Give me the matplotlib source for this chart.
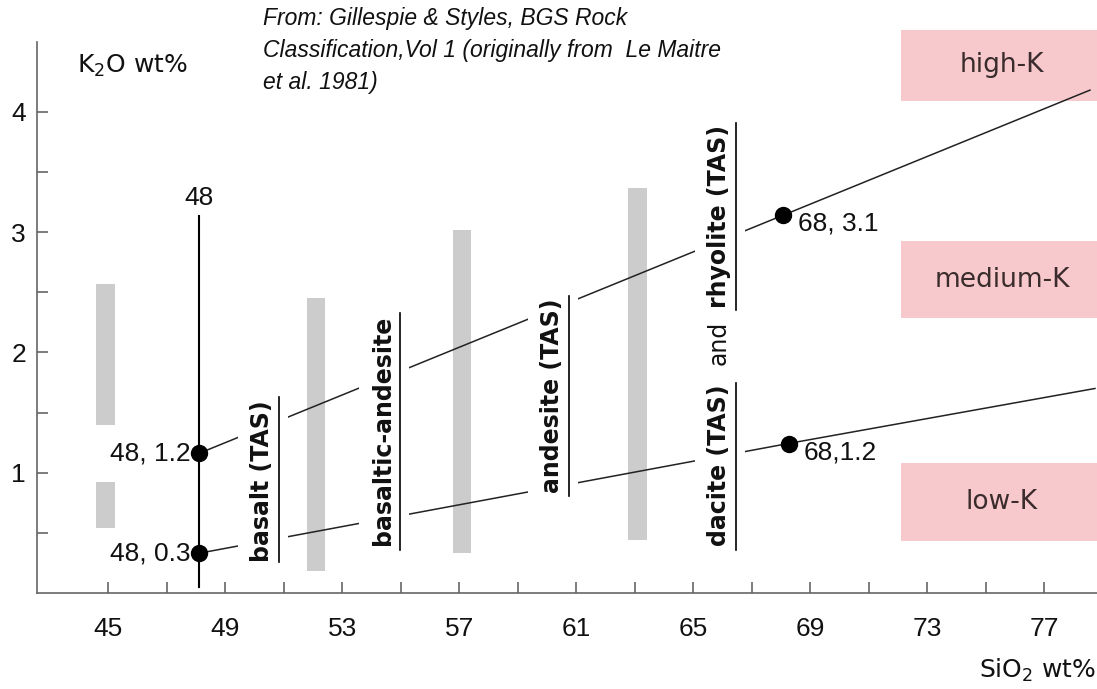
import matplotlib
matplotlib.use("Agg")
import matplotlib.pyplot as plt
from matplotlib.patches import Rectangle

# axis ticks
sio2_ticks = [45, 49, 53, 57, 61, 65, 69, 73, 77]
k2o_ticks = [1, 2, 3, 4]

# the four control points and their labels
point_sio2 = [48.1, 48.1, 68.07, 68.28]
point_k2o = [1.16, 0.33, 3.14, 1.24]
point_labels = ["48, 1.2", "48, 0.3", "68, 3.1", "68,1.2"]

# boundary lines (high-K / medium-K and medium-K / low-K)
high_x = [48.1, 68.07, 78.56]
high_y = [1.16, 3.14, 4.18]
low_x = [48.1, 68.28, 78.73]
low_y = [0.33, 1.244, 1.70]

# grey range bars
bar_x = [44.91, 44.91, 52.11, 57.10, 63.10]
bar_bottom = [1.40, 0.54, 0.18, 0.33, 0.44]
bar_top = [2.57, 0.92, 2.45, 3.02, 3.37]

# rock names (vertical)
rock_text = ["basalt (TAS)", "basaltic-andesite", "andesite (TAS)",
             "dacite (TAS)", "and", "rhyolite (TAS)"]
rock_x = [50.25, 54.38, 60.16, 65.87, 65.87, 65.87]
rock_y = [0.93, 1.35, 1.64, 1.06, 2.08, 3.13]
rock_bold = [True, True, True, True, False, True]
rock_line_lo = [0.26, 0.36, 0.81, 0.357, None, 2.35]
rock_line_hi = [1.63, 2.33, 2.47, 1.745, None, 3.91]

# K classes
k_names = ["high-K", "medium-K", "low-K"]
k_bottom = [4.09, 2.285, 0.432]
k_top = [4.68, 2.925, 1.08]

fig = plt.figure(figsize=(10.97, 6.89), dpi=100)
ax = fig.add_axes([37 / 1097, 96 / 689, 1 - 37 / 1097, 551 / 689])
ax.set_xlim(42.57, 78.8)
ax.set_ylim(0, 4.58)

for s in ["top", "right"]:
    ax.spines[s].set_visible(False)
for s in ["left", "bottom"]:
    ax.spines[s].set_color("#666666")
    ax.spines[s].set_linewidth(1.2)

ax.set_xticks(range(45, 79, 2))
ax.set_xticklabels([str(t) if t in sio2_ticks else "" for t in range(45, 79, 2)])
ax.set_yticks([0.5, 1, 1.5, 2, 2.5, 3, 3.5, 4])
ax.set_yticklabels(["", "1", "", "2", "", "3", "", "4"])
ax.tick_params(direction="in", length=8, width=1.2, color="#666666",
               labelsize=19, labelcolor="#111111")
ax.tick_params(axis="x", pad=17)
ax.tick_params(axis="y", pad=8)
for lab in ax.get_xticklabels() + ax.get_yticklabels():
    lab.set_family("Liberation Sans")

# grey bars
for x, b, t in zip(bar_x, bar_bottom, bar_top):
    ax.add_patch(Rectangle((x - 0.32, b), 0.64, t - b, facecolor="#cccccc",
                           edgecolor="none", zorder=1))

# boundary lines
ax.plot(high_x, high_y, color="#222222", lw=1.1, zorder=2)
ax.plot(low_x, low_y, color="#222222", lw=1.1, zorder=2)

# vertical 48 line
ax.plot([point_sio2[0], point_sio2[0]], [0.05, 3.13], color="black", lw=1.5, zorder=2)
ax.text(point_sio2[0], 3.28, "48", ha="center", va="center", fontsize=19,
        family="Liberation Sans", color="#111111")

# rock labels, with white gaps cut into the lines
columns = sorted(set(rock_x))
for cx in columns:
    los = [l for x, l in zip(rock_x, rock_line_lo) if x == cx and l is not None]
    his = [h for x, h in zip(rock_x, rock_line_hi) if x == cx and h is not None]
    ax.add_patch(Rectangle((cx - 0.82, min(los) - 0.05), 1.72, max(his) - min(los) + 0.1,
                           facecolor="white", edgecolor="none", zorder=3))
for txt, x, y, bold, lo, hi in zip(rock_text, rock_x, rock_y, rock_bold,
                                   rock_line_lo, rock_line_hi):
    ax.text(x, y, txt, rotation=90, ha="center", va="center", fontsize=17,
            family="DejaVu Sans", fontweight="bold" if bold else "normal",
            color="#111111", zorder=4)
    if lo is not None:
        ax.plot([x + 0.58, x + 0.58], [lo, hi], color="black", lw=1.2, zorder=4)

# points
ax.plot(point_sio2, point_k2o, "o", color="black", markersize=11.5, zorder=5)
for i, (x, y, lab) in enumerate(zip(point_sio2, point_k2o, point_labels)):
    if x < 60:
        ax.text(x - 0.28, y, lab, ha="right", va="center", fontsize=19,
                family="Liberation Sans", color="#111111", zorder=5)
    else:
        ax.text(x + 0.5, y - 0.07, lab, ha="left", va="center", fontsize=19,
                family="Liberation Sans", color="#111111", zorder=5)

# K class boxes
for name, b, t in zip(k_names, k_bottom, k_top):
    ax.add_patch(Rectangle((72.1, b), 6.7, t - b, facecolor="#f7c9cc",
                           edgecolor="none", zorder=1, clip_on=False))
    ax.text(75.55, (b + t) / 2, name, ha="center", va="center", fontsize=19,
            family="DejaVu Sans", color="#3a2c2c", zorder=2, clip_on=False)

# axis titles
fig.text(77 / 1097, 1 - 73 / 689, r"K$_2$O wt%", ha="left", va="baseline",
         fontsize=18, family="DejaVu Sans", color="#111111")
fig.text(1096 / 1097, 1 - 678 / 689, r"SiO$_2$ wt%", ha="right", va="baseline",
         fontsize=18, family="DejaVu Sans", color="#111111")

# source note
fig.text(263 / 1097, 1 - 7 / 689,
         "From: Gillespie & Styles, BGS Rock\n"
         "Classification,Vol 1 (originally from  Le Maitre\n"
         "et al. 1981)",
         ha="left", va="top", fontsize=16.5, style="italic",
         family="Liberation Sans", color="#111111", linespacing=1.5)

fig.savefig("out.png", dpi=100)
